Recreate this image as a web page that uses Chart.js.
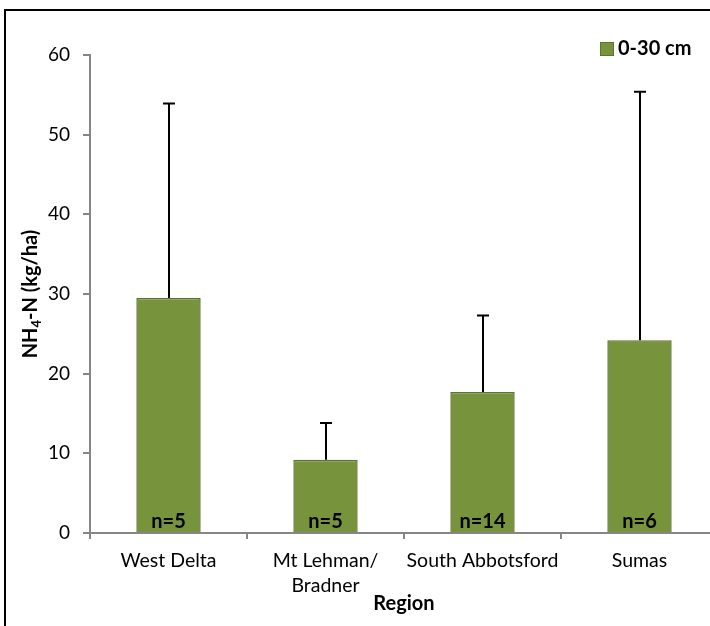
<!DOCTYPE html>
<html>
<head>
<meta charset="utf-8">
<script src="https://cdn.jsdelivr.net/npm/chart.js@4/dist/chart.umd.min.js"></script>
<style>
  html, body { margin: 0; padding: 0; background: #fff; overflow: hidden; }
  #wrap { position: absolute; left: 0; top: 0; width: 730px; height: 640px; }
</style>
</head>
<body>
<div id="wrap"><canvas id="c" width="730" height="640"></canvas></div>
<script>
// Soil ammonium (0-30 cm) by region
const regions = [['West Delta'], ['Mt Lehman/', 'Bradner'], ['South Abbotsford'], ['Sumas']];
const meanNH4 = [29.5, 9.2, 17.7, 24.2];
const sdNH4 = [24.4, 4.6, 9.6, 31.2];
const sampleCounts = ['n=5', 'n=5', 'n=14', 'n=6'];
const depthLabel = '0-30 cm';
const yMin = 0, yMax = 60, yStep = 10;

const FONT = 'Lato, "Open Sans", sans-serif';
const GREEN = '#77933C';
const GREEN_EDGE = '#5C7430';
const AXIS_GREY = '#868686';

const framePlugin = {
  id: 'frame',
  beforeDraw(chart) {
    const ctx = chart.ctx;
    ctx.save();
    ctx.fillStyle = '#fff';
    ctx.fillRect(0, 0, chart.width, chart.height);
    ctx.strokeStyle = '#000';
    ctx.lineWidth = 2;
    ctx.strokeRect(5, 10, chart.width + 20, chart.height + 20);
    ctx.restore();
  }
};

const errorBarPlugin = {
  id: 'errorBars',
  afterDatasetsDraw(chart) {
    const ctx = chart.ctx;
    const meta = chart.getDatasetMeta(0);
    const y = chart.scales.y;
    ctx.save();
    ctx.strokeStyle = '#000';
    ctx.lineWidth = 2;
    meta.data.forEach((bar, i) => {
      const top = y.getPixelForValue(meanNH4[i] + sdNH4[i]);
      const x = Math.round(bar.x);
      ctx.beginPath();
      ctx.moveTo(x, bar.y);
      ctx.lineTo(x, top);
      ctx.moveTo(x - 6, top);
      ctx.lineTo(x + 6, top);
      ctx.stroke();
    });
    ctx.restore();
  }
};

const countLabelPlugin = {
  id: 'countLabels',
  afterDatasetsDraw(chart) {
    const ctx = chart.ctx;
    const meta = chart.getDatasetMeta(0);
    ctx.save();
    ctx.font = 'bold 20px ' + FONT;
    ctx.fillStyle = '#000';
    ctx.textAlign = 'center';
    ctx.textBaseline = 'middle';
    meta.data.forEach((bar, i) => {
      ctx.fillText(sampleCounts[i], bar.x, chart.chartArea.bottom - 11);
    });
    ctx.restore();
  }
};

const titlesPlugin = {
  id: 'axisTitles',
  afterDraw(chart) {
    const ctx = chart.ctx;
    const area = chart.chartArea;
    ctx.save();
    ctx.fillStyle = '#000';
    // y-axis title with subscript
    const big = 'bold 20px ' + FONT, small = 'bold 13px ' + FONT;
    const parts = [['NH', big, 0], ['4', small, 6], ['-N (kg/ha)', big, 0]];
    let total = 0;
    parts.forEach(p => { ctx.font = p[1]; total += ctx.measureText(p[0]).width; });
    ctx.translate(31, (area.top + area.bottom) / 2);
    ctx.rotate(-Math.PI / 2);
    ctx.textBaseline = 'middle';
    ctx.textAlign = 'left';
    let x = -total / 2;
    parts.forEach(p => {
      ctx.font = p[1];
      ctx.fillText(p[0], x, p[2]);
      x += ctx.measureText(p[0]).width;
    });
    ctx.setTransform(1, 0, 0, 1, 0, 0);
    // x-axis title
    ctx.font = 'bold 20px ' + FONT;
    ctx.textAlign = 'center';
    ctx.textBaseline = 'middle';
    ctx.fillText('Region', (area.left + area.right) / 2, 604);
    // legend
    const label = chart.data.datasets[0].label;
    ctx.fillStyle = GREEN;
    ctx.fillRect(600, 42, 13, 13);
    ctx.strokeStyle = GREEN_EDGE;
    ctx.lineWidth = 1;
    ctx.strokeRect(600.5, 42.5, 13, 13);
    ctx.fillStyle = '#000';
    ctx.textAlign = 'left';
    ctx.font = 'bold 20px ' + FONT;
    ctx.fillText(label, 618, 49);
    ctx.restore();
  }
};

new Chart(document.getElementById('c'), {
  type: 'bar',
  data: {
    labels: regions,
    datasets: [{
      label: depthLabel,
      data: meanNH4,
      backgroundColor: GREEN,
      borderColor: GREEN_EDGE,
      borderWidth: 1.5,
      categoryPercentage: 1,
      barPercentage: 0.41
    }]
  },
  options: {
    responsive: false,
    animation: false,
    devicePixelRatio: 1,
    layout: { padding: { left: 0, top: 55, right: 12, bottom: 0 } },
    plugins: { legend: { display: false }, tooltip: { enabled: false } },
    scales: {
      x: {
        afterFit(s) { s.height = 107; },
        grid: { display: true, offset: true, drawOnChartArea: false, drawTicks: true, tickLength: 6, color: AXIS_GREY, lineWidth: 2 },
        border: { display: true, color: AXIS_GREY, width: 2 },
        ticks: { color: '#000', font: { family: FONT, size: 19.5, lineHeight: 1.3 }, padding: 9, maxRotation: 0, autoSkip: false }
      },
      y: {
        min: yMin, max: yMax,
        afterFit(s) { s.width = 90; },
        grid: { display: true, drawOnChartArea: false, drawTicks: true, tickLength: 7, color: AXIS_GREY, lineWidth: 2 },
        border: { display: true, color: AXIS_GREY, width: 2 },
        ticks: { stepSize: yStep, color: '#000', font: { family: FONT, size: 19 }, padding: 13 }
      }
    }
  },
  plugins: [framePlugin, errorBarPlugin, countLabelPlugin, titlesPlugin]
});
</script>
</body>
</html>
